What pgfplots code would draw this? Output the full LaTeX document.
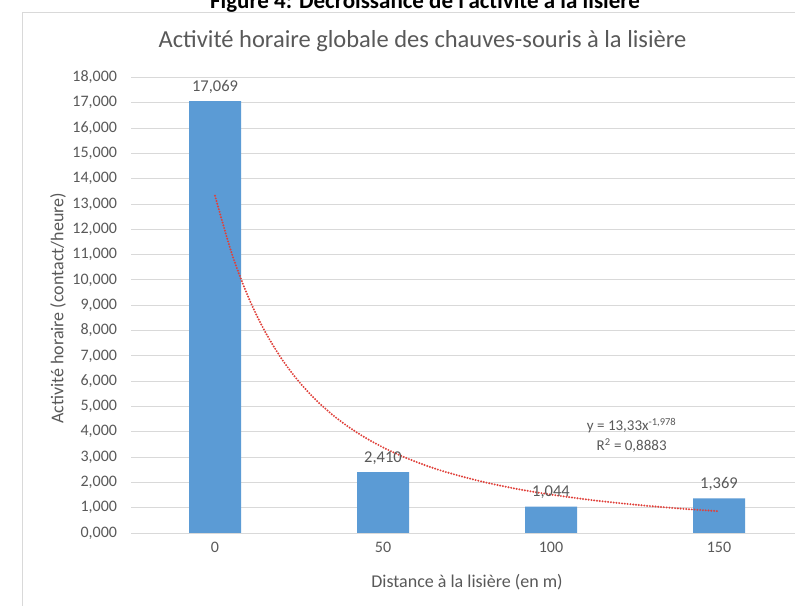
\documentclass[border=0pt]{standalone}
\usepackage{pgfplots}
\pgfplotsset{compat=1.18}
\usepackage{fontspec}
\setmainfont{Carlito}
\definecolor{barblue}{HTML}{5B9BD5}
\definecolor{txtgray}{HTML}{595959}
\definecolor{gridgray}{HTML}{D9D9D9}
\definecolor{trendred}{HTML}{E0403A}
\begin{document}
\begin{tikzpicture}[x=1pt,y=1pt]
\clip (0,0) rectangle (795,605);
\fill[white] (0,0) rectangle (795,605);
% top caption (cropped)
\node[anchor=base, font=\fontsize{23}{26}\selectfont\bfseries, text=black] at (425,596.7) {Figure 4: Décroissance de l'activité à la lisière};
% chart frame
\draw[gridgray, line width=1pt] (22,-10) -- (22,592.3) -- (820,592.3);
% chart title and axis titles
\node[font=\fontsize{24.5}{28}\selectfont, text=txtgray] at (422.5,564) {Activité horaire globale des chauves-souris à la lisière};
\node[font=\fontsize{18}{21}\selectfont, text=txtgray] at (467,23) {Distance à la lisière (en m)};
\node[font=\fontsize{18}{21}\selectfont, text=txtgray, rotate=90] at (58,296.5) {Activité horaire (contact/heure)};
\begin{axis}[
  at={(131pt,72pt)}, anchor=south west,
  scale only axis, width=672pt, height=455.5pt,
  xmin=-0.5, xmax=3.5, ymin=0, ymax=18,
  xtick={0,1,2,3}, xticklabels={0,50,100,150},
  ytick={0,1,...,18},
  axis line style={draw=none},
  major tick length=0pt,
  ymajorgrids, grid style={gridgray, line width=0.9pt},
  clip=false,
  /pgf/number format/fixed, /pgf/number format/fixed zerofill,
  /pgf/number format/precision=3, /pgf/number format/use comma,
  /pgf/number format/assume math mode=true,
  ticklabel style={font=\fontsize{16}{19}\selectfont, text=txtgray},
  xticklabel style={yshift=-5.5pt},
  yticklabel style={xshift=-10.5pt},
]
\addplot[ybar, bar width=52pt, fill=barblue, draw=none,
  nodes near coords, point meta=explicit symbolic,
  nodes near coords style={font=\fontsize{16.5}{19}\selectfont, text=txtgray, yshift=4pt}]
  coordinates {(0,17.069)[17,069] (1,2.410)[2,410] (2,1.044)[1,044] (3,1.369)[1,369]};
\addplot[trendred, line width=2.2pt, line cap=round, dash pattern=on 0pt off 2.8pt, smooth]
  coordinates {(0,13.330) (0.1,11.040) (0.2,9.294) (0.3,7.933) (0.4,6.852) (0.5,5.978) (0.6,5.261) (0.7,4.666) (0.8,4.168) (0.9,3.745) (1.0,3.384) (1.1,3.072) (1.2,2.803) (1.3,2.566) (1.4,2.360) (1.6,2.014) (1.8,1.739) (2.0,1.518) (2.25,1.295) (2.5,1.119) (2.75,0.976) (3.0,0.859)};
\node[font=\fontsize{15}{20}\selectfont, text=txtgray, align=center] at (axis cs:2.48,3.87) {y = 13,33x\textsuperscript{-1,978}\\R\textsuperscript{2} = 0,8883};
\end{axis}
\end{tikzpicture}
\end{document}
